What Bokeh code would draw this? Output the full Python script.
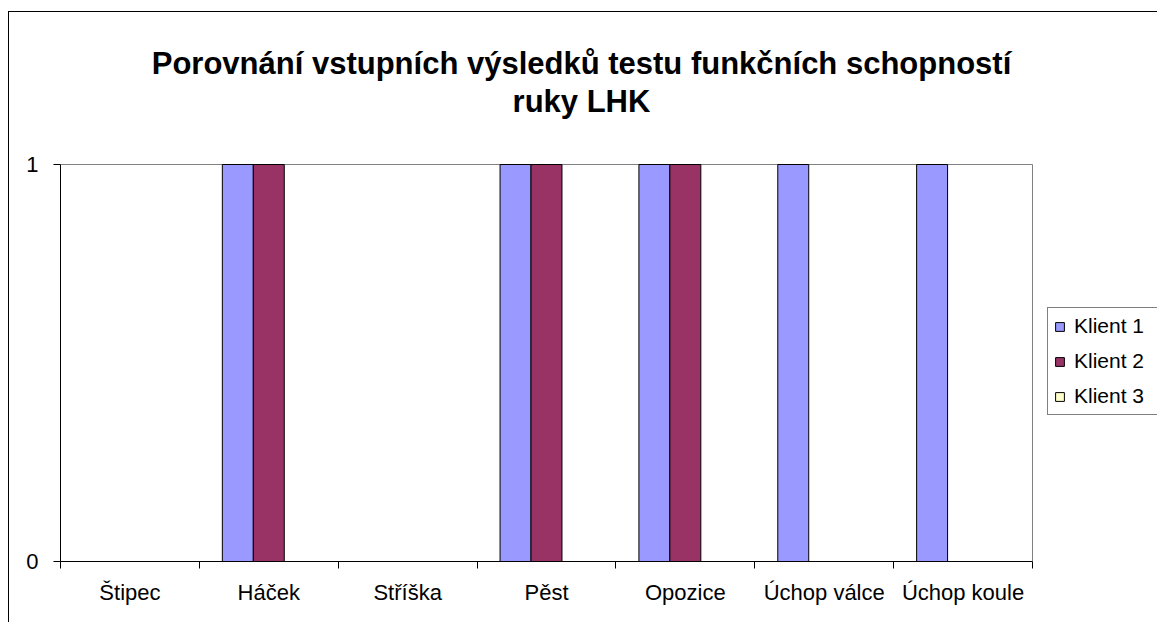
from bokeh.plotting import figure
from bokeh.models import (Range1d, FixedTicker, Legend, LegendItem, Label,
                          ColumnDataSource, LinearAxis, InlineStyleSheet)
from bokeh.embed import file_html
from bokeh.resources import INLINE

categories = ["Štipec", "Háček", "Stříška", "Pěst", "Opozice", "Úchop válce", "Úchop koule"]
series_names = ["Klient 1", "Klient 2", "Klient 3"]
klient1 = [0, 1, 0, 1, 1, 1, 1]
klient2 = [0, 1, 0, 1, 1, 0, 0]
klient3 = [0, 0, 0, 0, 0, 0, 0]
colors = ["#9999FF", "#993366", "#FFFFCC"]
y_ticks = [0, 1]
title_lines = ["Porovnání vstupních výsledků testu funkčních schopností", "ruky LHK"]

FONT = "Liberation Sans"
n = len(categories)
ymax = max(y_ticks)
centers = [i + 0.5 for i in range(n)]
bar_w = 0.223

# the frame covers the whole chart; the plot area is the part [0, n] x [0, ymax]
W, H = 1157, 622
left_b, bottom_b = 60, 61
px_per_x = 972 / n
px_per_y = 397 / ymax
x_end = (W - left_b) / px_per_x
y_end = (H - bottom_b) / px_per_y

p = figure(width=W, height=H, output_backend="svg", toolbar_location=None, title=None,
           x_range=Range1d(0, x_end), y_range=Range1d(0, y_end),
           x_axis_type=None, y_axis_type=None,
           min_border_left=left_b, min_border_right=0, min_border_top=0, min_border_bottom=bottom_b)
p.outline_line_color = None
p.background_fill_color = "white"
p.border_fill_color = "white"
p.stylesheets = [InlineStyleSheet(css=(
    ":host::after { content: ''; position: absolute; left: 8px; top: 11px; "
    "width: 1200px; height: 700px; border: 1px solid black; pointer-events: none; }"
    ":host { overflow: hidden; }"))]

# x axis: labels at category centres, ticks at boundaries
xaxis = LinearAxis(ticker=FixedTicker(ticks=centers, minor_ticks=list(range(n + 1))), bounds=(0, n))
xaxis.major_label_overrides = {c: lab for c, lab in zip(centers, categories)}
xaxis.major_tick_line_color = None
xaxis.major_tick_out = 7
xaxis.major_tick_in = 0
xaxis.minor_tick_line_color = "black"
xaxis.minor_tick_out = 7
xaxis.minor_tick_in = 0
xaxis.axis_line_color = "black"
xaxis.major_label_text_font = FONT
xaxis.major_label_text_font_size = "22px"
xaxis.major_label_text_color = "black"
xaxis.major_label_standoff = 11
p.add_layout(xaxis, "below")

yaxis = LinearAxis(ticker=FixedTicker(ticks=y_ticks, minor_ticks=[]), bounds=(0, ymax))
yaxis.major_tick_out = 7
yaxis.major_tick_in = 0
yaxis.major_tick_line_color = "black"
yaxis.axis_line_color = "black"
yaxis.major_label_text_font = FONT
yaxis.major_label_text_font_size = "22px"
yaxis.major_label_text_color = "black"
yaxis.major_label_standoff = 15
p.add_layout(yaxis, "left")

p.xgrid.grid_line_color = None
p.ygrid.grid_line_color = None

# grey plot-area border: gridline at the top tick and right edge
p.segment(x0=[0, n], y0=[ymax, 0], x1=[n, n], y1=[ymax, ymax], line_color="#808080", line_width=1)

items = []
for k, (name, vals, col) in enumerate(zip(series_names, [klient1, klient2, klient3], colors)):
    off = (k - 1) * bar_w
    src = ColumnDataSource(dict(x=[c + off for c in centers], top=vals))
    r = p.vbar(x="x", top="top", bottom=0, width=bar_w, source=src,
               fill_color=col, line_color="black", line_width=1)
    items.append(LegendItem(label=name, renderers=[r]))

legend = Legend(items=items, location=(987, 146))
legend.label_text_font = FONT
legend.label_text_font_size = "21px"
legend.label_text_color = "black"
legend.glyph_width = 11
legend.glyph_height = 11
legend.label_height = 24
legend.label_width = 95
legend.spacing = 11
legend.padding = 6
legend.margin = 0
legend.label_standoff = 9
legend.border_line_color = "black"
legend.border_line_width = 1
legend.background_fill_color = "white"
legend.background_fill_alpha = 1
p.add_layout(legend, "center")

# two-line title, centred over the chart
title_x = 3.752
for line, y in zip(title_lines, [1.2544, 1.1587]):
    p.add_layout(Label(x=title_x, y=y, text=line, text_align="center", text_baseline="alphabetic",
                       text_font=FONT, text_font_size="31px", text_font_style="bold",
                       text_color="black"))

open("out.html", "w").write(file_html(p, INLINE))
